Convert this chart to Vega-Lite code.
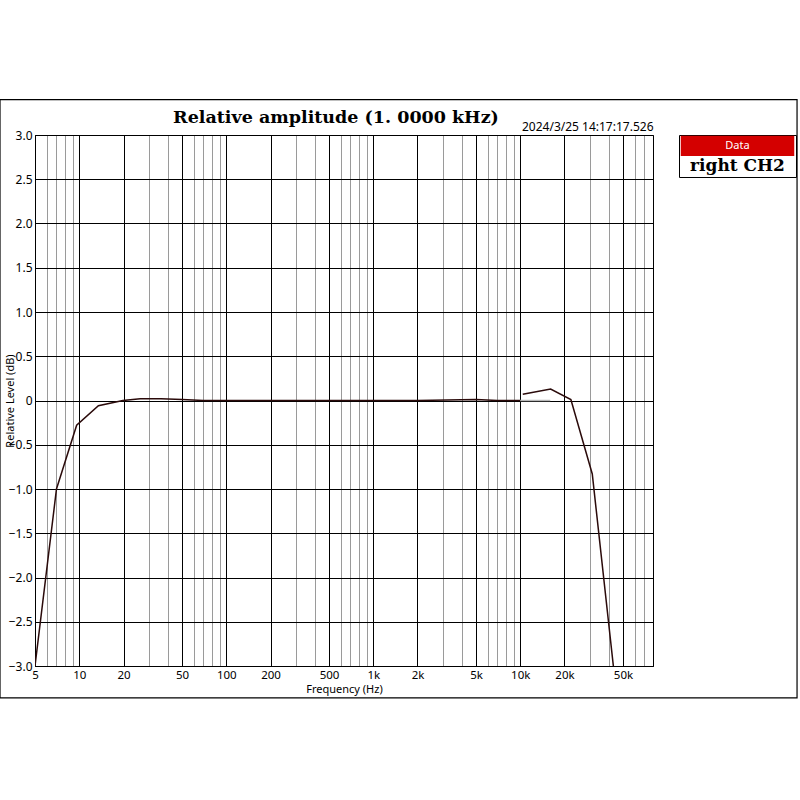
{
  "$schema": "https://vega.github.io/schema/vega-lite/v6.json",
  "background": "white",
  "padding": {"left": -2, "top": 98, "right": 0, "bottom": 0},
  "bounds": "flush",
  "spacing": 26,
  "config": {
    "view": {"stroke": "black", "strokeWidth": 1},
    "axis": {"labelFont": "Noto Sans", "labelFontSize": 12, "labelColor": "black", "titleFont": "Noto Sans", "titleFontSize": 11, "titleFontWeight": "normal", "titleColor": "black", "domainColor": "black"}
  },
  "hconcat": [
    {
      "width": 618,
      "height": 531,
      "title": {"text": "Relative amplitude (1. 0000 kHz)", "font": "DejaVu Serif", "fontSize": 17.5, "fontWeight": "bold", "color": "black", "anchor": "middle", "frame": "group", "baseline": "alphabetic", "offset": -41, "dx": -8},
      "resolve": {"axis": {"x": "independent"}},
      "layer": [
        {
          "data": {"values": [{}]},
          "mark": {"type": "rect", "fill": null, "stroke": "black", "strokeWidth": 1.2, "clip": false},
          "encoding": {
            "x": {"datum": 2.89, "type": "quantitative", "scale": {"type": "log", "domain": [5, 80000], "nice": false, "zero": false},
              "axis": {"orient": "top", "labels": false, "ticks": false, "domain": false, "grid": false, "title": "2024/3/25 14:17:17.526", "titleAnchor": "end", "titleAlign": "right", "titleFontSize": 12, "titlePadding": 2}},
            "x2": {"datum": 763800},
            "y": {"datum": 3.4, "type": "quantitative", "scale": {"domain": [-3, 3], "nice": false, "zero": false},
              "axis": {"title": "Relative Level (dB)", "titlePadding": -7, "ticks": false, "labelPadding": 3,
                "values": [-3,-2.5,-2,-1.5,-1,-0.5,0,0.5,1,1.5,2,2.5,3],
                "labelExpr": "datum.value == 0 ? '0' : format(datum.value, '.1f')",
                "grid": true, "gridColor": "black", "gridWidth": 1}},
            "y2": {"datum": -3.36}
          }
        },
        {
          "data": {"values": [
            {"freq": 5, "level": -3.0, "trace": "low"},
            {"freq": 7.0, "level": -1.0, "trace": "low"},
            {"freq": 9.6, "level": -0.28, "trace": "low"},
            {"freq": 13.5, "level": -0.06, "trace": "low"},
            {"freq": 19.8, "level": 0.0, "trace": "low"},
            {"freq": 26, "level": 0.02, "trace": "low"},
            {"freq": 36, "level": 0.02, "trace": "low"},
            {"freq": 50, "level": 0.01, "trace": "low"},
            {"freq": 70, "level": 0.0, "trace": "low"},
            {"freq": 100, "level": 0.0, "trace": "low"},
            {"freq": 200, "level": 0.0, "trace": "low"},
            {"freq": 500, "level": 0.0, "trace": "low"},
            {"freq": 1000, "level": 0.0, "trace": "low"},
            {"freq": 2000, "level": 0.0, "trace": "low"},
            {"freq": 5000, "level": 0.01, "trace": "low"},
            {"freq": 7000, "level": 0.0, "trace": "low"},
            {"freq": 10000, "level": 0.0, "trace": "low"},
            {"freq": 10000, "level": 0.0, "trace": "ghost"},
            {"freq": 16000, "level": 0.0, "trace": "ghost"},
            {"freq": 10400, "level": 0.07, "trace": "high"},
            {"freq": 16100, "level": 0.13, "trace": "high"},
            {"freq": 22100, "level": 0.01, "trace": "high"},
            {"freq": 30900, "level": -0.83, "trace": "high"},
            {"freq": 43000, "level": -3.0, "trace": "high"}
          ]},
          "mark": {"type": "line", "strokeWidth": 1.5, "clip": true},
          "encoding": {
            "x": {"field": "freq", "type": "quantitative", "scale": {"type": "log", "domain": [5, 80000], "nice": false, "zero": false},
              "axis": {"orient": "bottom", "title": "Frequency (Hz)", "titlePadding": 3, "ticks": false, "labelPadding": 3, "labelFontSize": 11.5, "labelFlush": false, "labelOverlap": false,
                "values": [5,6,7,8,9,10,20,30,40,50,60,70,80,90,100,200,300,400,500,600,700,800,900,1000,2000,3000,4000,5000,6000,7000,8000,9000,10000,20000,30000,40000,50000,60000,70000],
                "labelExpr": "indexof([5,10,20,50,100,200,500,1000,2000,5000,10000,20000,50000], datum.value) >= 0 ? (datum.value >= 1000 ? (datum.value / 1000) + 'k' : datum.value + '') : ''",
                "grid": true,
                "gridColor": {"condition": {"test": "indexof([5,10,20,50,100,200,500,1000,2000,5000,10000,20000,50000], datum.value) >= 0", "value": "black"}, "value": "#9a9a9a"},
                "gridWidth": 1}},
            "y": {"field": "level", "type": "quantitative", "scale": {"domain": [-3, 3], "nice": false, "zero": false},
              "axis": {"title": "Relative Level (dB)", "titlePadding": -7, "ticks": false, "labelPadding": 3,
                "values": [-3,-2.5,-2,-1.5,-1,-0.5,0,0.5,1,1.5,2,2.5,3],
                "labelExpr": "datum.value == 0 ? '0' : format(datum.value, '.1f')",
                "grid": true, "gridColor": "black", "gridWidth": 1}},
            "color": {"field": "trace", "type": "nominal", "scale": {"domain": ["low", "ghost", "high"], "range": ["#2a0a0a", "#b8b8b8", "#2a0a0a"]}, "legend": null}
          }
        }
      ]
    },
    {
      "width": 117,
      "height": 42,
      "data": {"values": [
        {"part": "header", "label": "Data"},
        {"part": "body", "label": "right CH2"}
      ]},
      "layer": [
        {
          "transform": [{"filter": "datum.part == 'header'"}],
          "mark": {"type": "rect", "color": "#d40000"},
          "encoding": {
            "x": {"datum": 0.015, "type": "quantitative", "scale": {"domain": [0, 1], "nice": false, "zero": false}, "axis": null},
            "x2": {"datum": 0.985},
            "y": {"field": "part", "type": "nominal", "sort": ["header", "body"], "axis": null, "scale": {"domain": ["header", "body"], "paddingInner": 0, "paddingOuter": 0.04}}
          }
        },
        {
          "transform": [{"filter": "datum.part == 'header'"}],
          "mark": {"type": "text", "color": "white", "font": "Noto Sans", "fontSize": 11},
          "encoding": {
            "y": {"field": "part", "type": "nominal", "sort": ["header", "body"], "axis": null},
            "text": {"field": "label"}
          }
        },
        {
          "transform": [{"filter": "datum.part == 'body'"}],
          "mark": {"type": "text", "color": "black", "font": "DejaVu Serif", "fontSize": 17, "fontWeight": "bold"},
          "encoding": {
            "y": {"field": "part", "type": "nominal", "sort": ["header", "body"], "axis": null},
            "text": {"field": "label"}
          }
        }
      ]
    }
  ]
}
